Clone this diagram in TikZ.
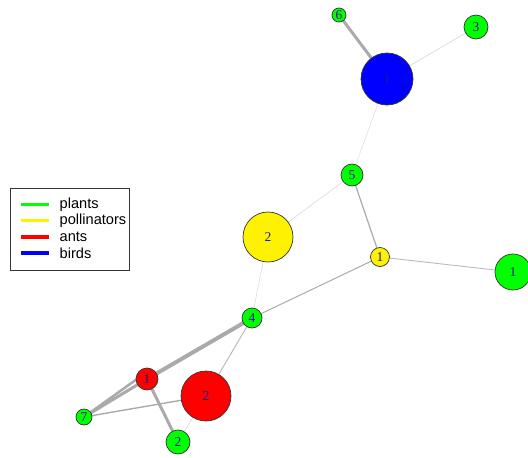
\documentclass[tikz,border=0pt]{standalone}
\usepackage{fontspec}
\setmainfont{Liberation Serif}
\newfontfamily\legfont{Liberation Sans}
\usetikzlibrary{calc}
\definecolor{LblNavy}{HTML}{1A1A8C}
\definecolor{EdgeDark}{HTML}{AAAAAA}
\definecolor{EdgeMid}{HTML}{BBBBBB}
\definecolor{EdgeLight}{HTML}{DDDDDD}
\pgfdeclarelayer{bg}
\pgfsetlayers{bg,main}

\begin{document}
\begin{tikzpicture}[
    x=1pt, y=-1pt,
    vert/.style={circle, draw=black!80, line width=0.7pt, inner sep=0pt, text=LblNavy, font=\fontsize{13.5}{13.5}\selectfont},
    plant/.style={vert, fill=green},
    poll/.style={vert, fill=yellow},
    ant/.style={vert, fill=red},
    bird/.style={vert, fill=blue},
    legline/.style={line width=3.6pt}
 ]
\useasboundingbox (0,0) rectangle (528,458);

% vertices
\node[plant, minimum size=14pt] (g6) at (339,15) {6};
\node[bird, minimum size=52pt] (b1) at (387,79) {1};
\node[plant, minimum size=24pt] (g3) at (476,27) {3};
\node[plant, minimum size=22pt] (g5) at (352,175) {5};
\node[poll, minimum size=50pt] (y2) at (268,237) {2};
\node[poll, minimum size=19pt] (y1) at (380,257) {1};
\node[plant, minimum size=36pt] (g1) at (513,272) {1};
\node[plant, minimum size=20pt] (g4) at (252,318) {4};
\node[ant, minimum size=22pt] (r1) at (147,379) {1};
\node[ant, minimum size=50pt] (r2) at (206,396) {2};
\node[plant, minimum size=16pt] (g7) at (84,417) {7};
\node[plant, minimum size=24pt] (g2) at (178,442) {2};

% edges
\begin{pgfonlayer}{bg}
\draw[EdgeDark, line width=3pt] (g6.center) -- (b1.center);
\draw[EdgeLight, line width=0.8pt] (b1.center) -- (g3.center);
\draw[EdgeLight, line width=0.5pt] (b1.center) -- (g5.center);
\draw[EdgeLight, line width=0.7pt] (g5.center) -- (y2.center);
\draw[EdgeDark, line width=1.2pt] (g5.center) -- (y1.center);
\draw[EdgeMid, line width=0.9pt] (y1.center) -- (g1.center);
\draw[EdgeDark, line width=1pt] (y1.center) -- (g4.center);
\draw[EdgeLight, line width=0.6pt] (y2.center) -- (g4.center);
\draw[EdgeDark, line width=4pt] (g4.center) -- (r1.center);
\draw[EdgeMid, line width=1pt] (g4.center) -- (r2.center);
\draw[EdgeDark, line width=3pt] (g7.center) -- (r1.center);
\draw[EdgeDark, line width=2.5pt] (g7.center) -- ($(r1.center)+(-3,-5)$);
\draw[EdgeDark, line width=3pt] (r1.center) -- (g2.center);
\draw[EdgeDark, line width=1.4pt] (g7.center) -- (r2.center);
\draw[EdgeLight, line width=0.8pt] (r2.center) -- (g2.center);
\end{pgfonlayer}

% legend
\node[draw=black!80, line width=0.7pt, minimum width=119pt, minimum height=82pt, inner sep=0pt] (legbox) at (69.5,229) {};
\foreach \col/\txt [count=\i] in {green/plants, yellow/pollinators, red/ants, blue/birds} {
    \coordinate (ls\i) at (21,{188+16.3*\i});
    \coordinate (le\i) at (49,{188+16.3*\i});
    \draw[legline, \col] (ls\i) -- (le\i);
    \node[anchor=west, inner sep=0pt, font=\legfont\fontsize{14.6}{14.6}\selectfont] (lt\i) at (59.5,{188+16.3*\i}) {\txt};
}

\end{tikzpicture}
\end{document}
